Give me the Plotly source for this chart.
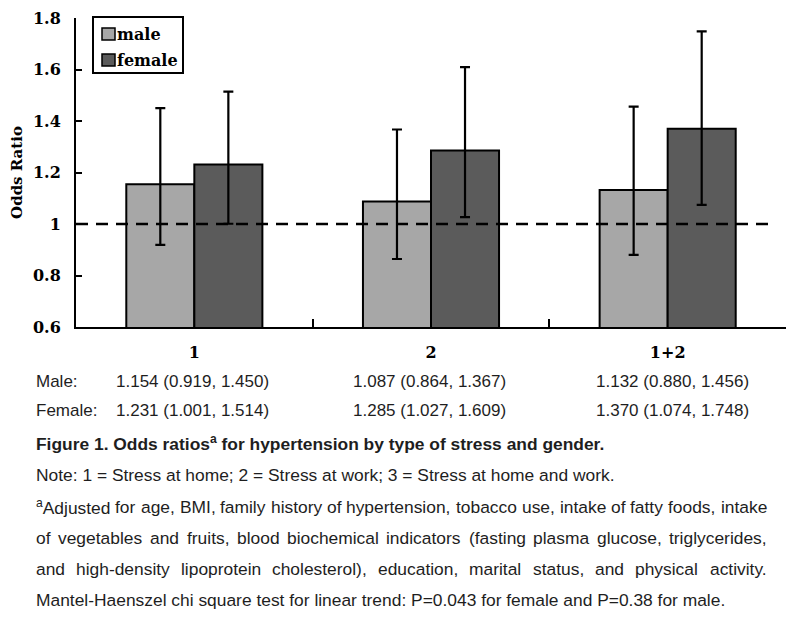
import plotly.graph_objects as go

# ---------------- data ----------------
categories = ["1", "2", "1+2"]
series_names = ["male", "female"]
male_or = [1.154, 1.087, 1.132]
male_lo = [0.919, 0.864, 0.880]
male_hi = [1.450, 1.367, 1.456]
female_or = [1.231, 1.285, 1.370]
female_lo = [1.001, 1.027, 1.074]
female_hi = [1.514, 1.609, 1.748]
y_tickvals = [0.6, 0.8, 1.0, 1.2, 1.4, 1.6, 1.8]
y_ticktext = ["0.6", "0.8", "1", "1.2", "1.4", "1.6", "1.8"]
reference_or = 1.0

caption = "Figure 1. Odds ratios<sup>a</sup> for hypertension by type of stress and gender."
note_line = "Note: 1 = Stress at home; 2 = Stress at work; 3 = Stress at home and work."
justified_lines = [
    "<sup>a</sup>Adjusted for age, BMI, family history of hypertension, tobacco use, intake of fatty foods, intake",
    "of vegetables and fruits, blood biochemical indicators (fasting plasma glucose, triglycerides,",
    "and high-density lipoprotein cholesterol), education, marital status, and physical activity.",
]
last_line = "Mantel-Haenszel chi square test for linear trend: P=0.043 for female and P=0.38 for male."

# ---------------- layout geometry ----------------
OFF = 8                      # default page (body) margin
W, H = 795 - OFF, 642 - OFF  # figure size that fits the window
# plot area in page pixels
PL, PR, PT, PB = 76, 786, 18, 327
L, R, T, B = PL - OFF, PR - OFF, PT - OFF, PB - OFF  # in figure pixels


def px(x):  # page px -> paper
    return (x - OFF - L) / (R - L)


def py(y):
    return (B - (y - OFF)) / (B - T)


SERIF = "DejaVu Serif"
SANS = "Liberation Sans, Arial, sans-serif"
TXT = "#1e1e1e"
COLORS = {"male": "#a7a7a7", "female": "#5b5b5b"}

fig = go.Figure()
for name, vals, lo, hi in [("male", male_or, male_lo, male_hi),
                           ("female", female_or, female_lo, female_hi)]:
    fig.add_trace(go.Bar(
        name=name, x=categories, y=vals,
        marker=dict(color=COLORS[name], line=dict(color="black", width=2)),
        error_y=dict(type="data", symmetric=False,
                     array=[h - v for h, v in zip(hi, vals)],
                     arrayminus=[v - l for l, v in zip(lo, vals)],
                     color="black", thickness=2.2, width=5),
    ))

shapes = [dict(type="line", xref="paper", yref="y", x0=0, x1=px(769),
               y0=reference_or, y1=reference_or,
               line=dict(color="black", width=2.5, dash="12px,8px"), layer="above")]

annotations = []

# ---------------- legend (drawn as a box) ----------------
shapes.append(dict(type="rect", xref="paper", yref="paper",
                   x0=px(93), x1=px(183), y0=py(73), y1=py(17),
                   line=dict(color="black", width=2), fillcolor="white", layer="above"))
for k, name in enumerate(series_names):
    cy = 34 + 26 * k
    shapes.append(dict(type="rect", xref="paper", yref="paper",
                       x0=px(102), x1=px(115), y0=py(cy + 6), y1=py(cy - 6),
                       line=dict(color="black", width=1.5), fillcolor=COLORS[name], layer="above"))
    annotations.append(dict(text=name, x=px(117), y=py(cy), xref="paper", yref="paper",
                            xanchor="left", yanchor="middle", showarrow=False,
                            borderpad=0, borderwidth=0,
                            font=dict(family=SERIF, size=16, color="black", weight="bold")))

# ---------------- text below chart ----------------
HELV = {' ': 278, '!': 278, '(': 333, ')': 333, ',': 278, '-': 333, '.': 278, ':': 278, ';': 278,
        '=': 584, '0': 556, '1': 556, '2': 556, '3': 556, '4': 556, '5': 556, '6': 556, '7': 556,
        '8': 556, '9': 556, 'A': 667, 'B': 667, 'C': 722, 'D': 722, 'E': 667, 'F': 611, 'G': 778,
        'H': 722, 'I': 278, 'J': 500, 'K': 667, 'L': 556, 'M': 833, 'N': 722, 'O': 778, 'P': 667,
        'Q': 778, 'R': 722, 'S': 667, 'T': 611, 'U': 722, 'V': 667, 'W': 944, 'X': 667, 'Y': 667,
        'Z': 611, 'a': 556, 'b': 556, 'c': 500, 'd': 556, 'e': 556, 'f': 278, 'g': 556, 'h': 556,
        'i': 222, 'j': 222, 'k': 500, 'l': 222, 'm': 833, 'n': 556, 'o': 556, 'p': 556, 'q': 556,
        'r': 333, 's': 500, 't': 278, 'u': 556, 'v': 500, 'w': 722, 'x': 500, 'y': 500, 'z': 500}


def text_width(s, size):
    w = 0.0
    if s.startswith("<sup>a</sup>"):
        w += 556 * 0.7
        s = s[len("<sup>a</sup>"):]
    for ch in s:
        w += HELV.get(ch, 556)
    return w / 1000 * size


def add_text(text, x, y, size, bold=False, anchor="left"):
    annotations.append(dict(
        text=text, x=px(x), y=py(y), xref="paper", yref="paper",
        xanchor=anchor, yanchor="middle", showarrow=False,
        borderpad=0, borderwidth=0,
        font=dict(family=SANS, size=size, color=TXT, weight="bold" if bold else "normal"),
    ))


FS = 17.4
# table rows
add_text("Male:", 36, 381, 17)
add_text("Female:", 36, 411, 17)
col_x = [116, 353, 596]
for i in range(len(categories)):
    add_text(f"{male_or[i]:.3f} ({male_lo[i]:.3f}, {male_hi[i]:.3f})", col_x[i], 381, 17)
    add_text(f"{female_or[i]:.3f} ({female_lo[i]:.3f}, {female_hi[i]:.3f})", col_x[i], 411, 17)

add_text(caption, 36, 443, FS, bold=True)
add_text(note_line, 36, 475, FS)

x_left, x_right = 36, 767
line_y = [507, 538, 569]
for line, yy in zip(justified_lines, line_y):
    words = line.split(" ")
    widths = [text_width(wd, FS) for wd in words]
    gap = (x_right - x_left - sum(widths)) / (len(words) - 1)
    xx = x_left
    for k, (wd, ww) in enumerate(zip(words, widths)):
        if k == len(words) - 1:
            add_text(wd, x_right, yy, FS, anchor="right")
        else:
            add_text(wd, xx, yy, FS)
        xx += ww + gap

add_text(last_line, 36, 600, FS)

fig.update_layout(
    width=W, height=H, autosize=False,
    margin=dict(l=L, r=W - R, t=T, b=H - B, pad=0, autoexpand=False),
    paper_bgcolor="white", plot_bgcolor="white",
    barmode="group", bargap=0.425, bargroupgap=0,
    showlegend=False,
    shapes=shapes,
    annotations=annotations,
    xaxis=dict(type="category", range=[-0.5, 2.5], tickson="boundaries", automargin=False,
               ticks="inside", ticklen=8, tickwidth=2, tickcolor="black",
               showline=True, linewidth=2, linecolor="black", showgrid=False,
               tickfont=dict(family=SERIF, size=16, color="black", weight="bold"),
               ticklabelstandoff=10, ticklabeloverflow="allow"),
    yaxis=dict(range=[0.6, 1.8], tickvals=y_tickvals, ticktext=y_ticktext, automargin=False,
               ticks="inside", ticklen=6, tickwidth=2, tickcolor="black",
               showline=True, linewidth=2, linecolor="black", showgrid=False, zeroline=False,
               tickfont=dict(family=SERIF, size=16, color="black", weight="bold"),
               ticklabelstandoff=10, ticklabeloverflow="allow",
               title=dict(text="Odds Ratio", standoff=8,
                          font=dict(family=SERIF, size=15, color="black", weight="bold"))),
)

fig.write_html("out.html")
